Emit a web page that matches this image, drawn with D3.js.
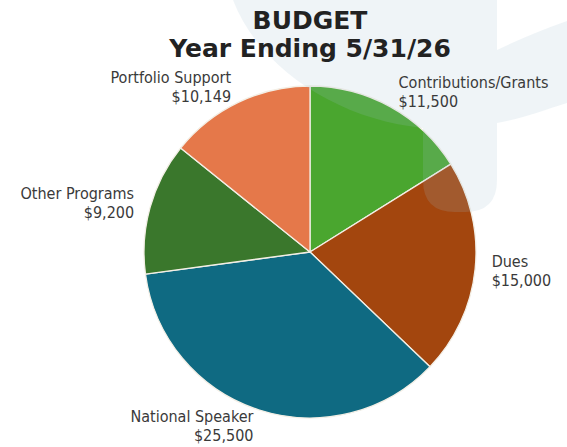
<!DOCTYPE html>
<html>
<head>
<meta charset="utf-8">
<script src="https://cdn.jsdelivr.net/npm/d3@7"></script>
<style>
  html, body { margin: 0; padding: 0; background: #ffffff; }
  svg { display: block; }
  .lbl { font-family: "DejaVu Sans Condensed", "DejaVu Sans", sans-serif; font-stretch: condensed; font-size: 16px; fill: #3a3a3a; }
  .ttl { font-family: "DejaVu Sans", sans-serif; font-weight: bold; font-size: 25px; fill: #222222; }
</style>
</head>
<body>
<script>
// ---- data ----
const categories = ["Contributions/Grants", "Dues", "National Speaker", "Other Programs", "Portfolio Support"];
const amounts = [11500, 15000, 25500, 9200, 10149];
const amountLabels = ["$11,500", "$15,000", "$25,500", "$9,200", "$10,149"];
const sliceColors = ["#4aa62f", "#a3460e", "#0f6a82", "#3a772c", "#e5784a"];
const titleLines = ["BUDGET", "Year Ending 5/31/26"];

// ---- layout ----
const W = 567, H = 447;
const cx = 310, cy = 252, R = 166;

const svg = d3.select("body").append("svg").attr("width", W).attr("height", H);

const rows = categories.map((c, i) => ({ name: c, value: amounts[i], label: amountLabels[i], color: sliceColors[i] }));

const pie = d3.pie().sort(null).value(d => d.value).startAngle(0).endAngle(2 * Math.PI);
const arcs = pie(rows);
const arc = d3.arc().innerRadius(0).outerRadius(R);
const labelArc = d3.arc().innerRadius(R * 1.1).outerRadius(R * 1.1);

const g = svg.append("g").attr("transform", `translate(${cx},${cy})`);
g.selectAll("path.slice").data(arcs).enter().append("path")
  .attr("class", "slice")
  .attr("d", arc)
  .attr("fill", d => d.data.color)
  .attr("stroke", "#f3efe6")
  .attr("stroke-width", 1.3)
  .attr("stroke-linejoin", "round");

// faint background watermark (decorative)
svg.append("path")
  .attr("d", "M233,0 C260,70 340,120 423,128 L423,180 Q423,212 455,212 L465,212 Q497,212 497,180 L497,123 C520,119 545,110 567,103 L567,21 Q530,34 497,50 L497,0 Z")
  .attr("fill", "rgb(160,190,205)")
  .attr("fill-opacity", 0.17);

// labels
const lab = svg.append("g").attr("transform", `translate(${cx},${cy})`);
arcs.forEach(a => {
  const [x, y] = labelArc.centroid(a);
  const anchor = x >= 0 ? "start" : "end";
  const t = lab.append("text").attr("class", "lbl").attr("text-anchor", anchor)
    .attr("x", x).attr("y", y);
  t.append("tspan").attr("x", x).attr("y", y - 4).text(a.data.name);
  t.append("tspan").attr("x", x).attr("y", y + 15).text(a.data.label);
});

// title
svg.append("text").attr("class", "ttl").attr("text-anchor", "middle")
  .attr("x", 310).attr("y", 29).text(titleLines[0]);
svg.append("text").attr("class", "ttl").attr("text-anchor", "middle")
  .attr("x", 310).attr("y", 57).text(titleLines[1]);
</script>
</body>
</html>
